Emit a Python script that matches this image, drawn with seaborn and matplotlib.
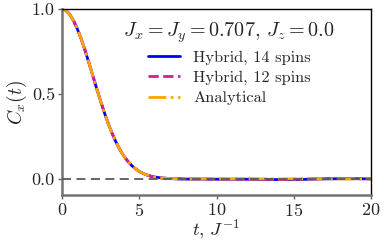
#!/usr/bin/env python3
"""
Autocorrelation C_x(t) for the XX chain: hybrid simulation vs analytical result
"""

import numpy as np
import pandas as pd
import matplotlib
matplotlib.use("Agg")
import matplotlib.pyplot as plt
import seaborn as sns

# time grid (units of J^-1)
t_vals = [0.0, 0.25, 0.5, 0.75, 1.0, 1.25, 1.5, 1.75, 2.0, 2.25, 2.5, 2.75,
          3.0, 3.25, 3.5, 3.75, 4.0, 4.25, 4.5, 4.75, 5.0, 5.25, 5.5, 5.75,
          6.0, 6.5, 7.0, 7.5, 8.0, 9.0, 10.0, 11.0, 12.0, 13.0, 14.0, 15.0,
          16.0, 17.0, 18.0, 19.0, 20.0]

# analytical curve
c_analytical = [1.000, 0.992, 0.969, 0.932, 0.882, 0.823, 0.755, 0.682, 0.607,
                0.531, 0.458, 0.389, 0.325, 0.267, 0.216, 0.172, 0.135, 0.105,
                0.080, 0.060, 0.044, 0.032, 0.023, 0.016, 0.011, 0.005, 0.002,
                0.001, 0.000, 0.000, 0.000, 0.000, 0.000, 0.000, 0.000, 0.000,
                0.000, 0.000, 0.000, 0.000, 0.000]

# hybrid runs - same as analytical except for tiny wiggles in the tail
c_hybrid_14 = [1.000, 0.992, 0.969, 0.932, 0.882, 0.823, 0.755, 0.682, 0.607,
               0.531, 0.458, 0.389, 0.325, 0.267, 0.216, 0.172, 0.135, 0.105,
               0.080, 0.060, 0.044, 0.032, 0.023, 0.016, 0.011, 0.005, 0.002,
               0.000, -0.001, -0.001, -0.002, -0.002, -0.002, -0.003, -0.004,
               -0.004, -0.002, 0.000, 0.001, 0.001, 0.000]
c_hybrid_12 = [1.000, 0.992, 0.969, 0.932, 0.882, 0.823, 0.755, 0.682, 0.607,
               0.531, 0.458, 0.389, 0.325, 0.267, 0.216, 0.172, 0.135, 0.105,
               0.080, 0.060, 0.044, 0.032, 0.023, 0.016, 0.011, 0.005, 0.002,
               0.001, 0.000, -0.001, -0.001, -0.002, -0.001, -0.002, -0.003,
               -0.002, 0.000, 0.002, 0.003, 0.002, 0.001]

labels = ["Hybrid, 14 spins", "Hybrid, 12 spins", "Analytical"]
colors = ["blue", "#d41f92", "orange"]
styles = ["-", "--", "-."]
legend_title = r"$J_x = J_y = 0.707,\, J_z = 0.0$"


def main():
    sns.set_style("white")
    plt.rcParams["font.family"] = "serif"
    plt.rcParams["font.serif"] = ["cmr10", "DejaVu Serif"]
    plt.rcParams["mathtext.fontset"] = "cm"
    plt.rcParams["axes.formatter.use_mathtext"] = True

    df = pd.DataFrame({"t": t_vals, labels[0]: c_hybrid_14,
                       labels[1]: c_hybrid_12, labels[2]: c_analytical})

    fig = plt.figure(figsize=(3.87, 2.42), dpi=100)
    ax = fig.add_axes([0.160, 0.194, 0.799, 0.769])

    for lab, col, ls in zip(labels, colors, styles):
        sns.lineplot(data=df, x="t", y=lab, color=col, linestyle=ls,
                     linewidth=2, label=lab, ax=ax)

    ax.axhline(0, color="0.35", linestyle=(0, (5, 3)), linewidth=1.3, zorder=5)

    ax.set_xlim(0, 20)
    ax.set_ylim(-0.095, 1.0)
    ax.set_xticks([0, 5, 10, 15, 20])
    ax.set_yticks([0.0, 0.5, 1.0])
    ax.yaxis.set_major_formatter(matplotlib.ticker.FormatStrFormatter("%.1f"))
    ax.tick_params(labelsize=13, length=3, width=1, color="0.4", pad=2,
                   bottom=True, left=True)

    ax.set_xlabel(r"$t,\, J^{-1}$", fontsize=13.5, labelpad=-1)
    ax.set_ylabel(r"$C_x(t)$", fontsize=14, labelpad=2)

    for side in ["left", "bottom"]:
        ax.spines[side].set_color("0.45")
        ax.spines[side].set_linewidth(1.8)
    for side in ["top", "right"]:
        ax.spines[side].set_color("black")
        ax.spines[side].set_linewidth(1.0)

    ax.legend(title=legend_title, title_fontsize=14.5, fontsize=11.8,
              frameon=False, loc="upper right", bbox_to_anchor=(0.905, 0.975),
              handlelength=2.0, labelspacing=0.35, borderaxespad=0.0)

    fig.savefig("out.png", dpi=100)
    plt.close(fig)


if __name__ == "__main__":
    main()
